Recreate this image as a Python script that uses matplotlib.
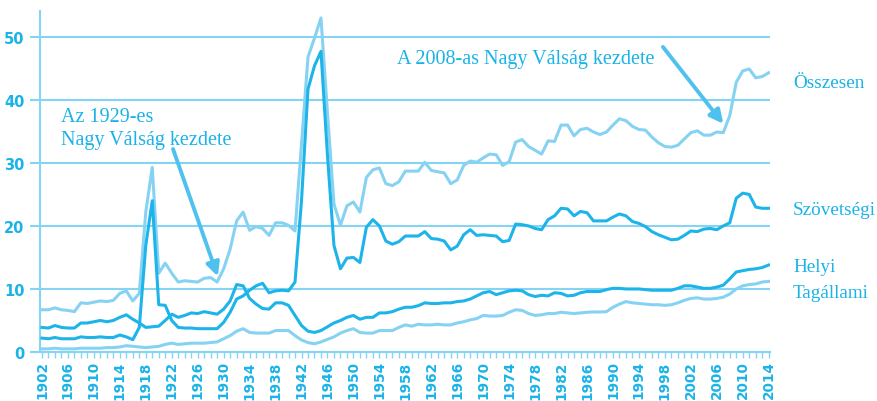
import numpy as np
import matplotlib.pyplot as plt

years = np.arange(1902, 2015)

osszesen = [
    6.7, 6.7, 7.0, 6.7, 6.6, 6.4, 7.8, 7.7, 7.9, 8.1,
    8.0, 8.2, 9.3, 9.7, 8.1, 9.3, 22.2, 29.3, 12.5, 14.1,
    12.5, 11.1, 11.3, 11.2, 11.1, 11.7, 11.8, 11.1, 13.2, 16.3,
    20.8, 22.2, 19.3, 19.9, 19.6, 18.5, 20.5, 20.5, 20.1, 19.2,
    33.0, 46.8, 49.8, 53.0, 38.0, 23.5, 20.1, 23.2, 23.8, 22.2,
    27.7, 28.9, 29.2, 26.7, 26.4, 27.0, 28.7, 28.7, 28.7, 30.1,
    28.8, 28.6, 28.4, 26.7, 27.3, 29.6, 30.3, 30.1, 30.8, 31.4,
    31.3, 29.6, 30.2, 33.3, 33.7, 32.6, 32.0, 31.4, 33.5, 33.4,
    36.0, 36.0, 34.3, 35.3, 35.5, 34.9, 34.5, 34.9, 36.0, 37.0,
    36.7, 35.8, 35.3, 35.2, 34.1, 33.2, 32.6, 32.5, 32.8, 33.8,
    34.8, 35.1, 34.4, 34.4, 34.9, 34.8, 37.5, 42.8, 44.6, 44.9,
    43.5, 43.7, 44.3,
]

szovetsegi = [
    2.2, 2.1, 2.3, 2.1, 2.1, 2.1, 2.4, 2.3, 2.3, 2.4,
    2.3, 2.3, 2.7, 2.4, 1.95, 3.9, 16.9, 24.0, 7.5, 7.4,
    5.0, 3.9, 3.8, 3.8, 3.7, 3.7, 3.7, 3.7, 4.7, 6.3,
    8.4, 8.9, 9.8, 10.5, 10.9, 9.4, 9.7, 9.8, 9.7, 11.1,
    24.0, 41.7, 45.4, 47.7, 31.2, 16.9, 13.2, 14.9, 15.0, 14.2,
    19.8, 21.0, 20.0, 17.6, 17.1, 17.5, 18.4, 18.4, 18.4, 19.1,
    18.0, 17.9, 17.6, 16.2, 16.8, 18.6, 19.4, 18.5, 18.6, 18.5,
    18.4, 17.5, 17.7, 20.3, 20.2, 20.0, 19.6, 19.4, 21.0, 21.6,
    22.8, 22.7, 21.6, 22.3, 22.1, 20.8, 20.8, 20.8, 21.4, 21.9,
    21.6, 20.7, 20.4, 19.9, 19.1, 18.6, 18.2, 17.8, 17.9, 18.5,
    19.2, 19.1, 19.5, 19.6, 19.4, 20.0, 20.5, 24.4, 25.2, 25.0,
    23.0, 22.8, 22.8,
]

helyi = [
    3.9, 3.8, 4.2, 3.9, 3.8, 3.8, 4.6, 4.6, 4.8, 5.0,
    4.8, 5.0, 5.5, 5.9, 5.2, 4.6, 3.9, 4.0, 4.1, 5.0,
    6.0, 5.5, 5.8, 6.2, 6.1, 6.4, 6.2, 6.0, 6.8, 8.1,
    10.7, 10.5, 8.5, 7.6, 6.9, 6.8, 7.8, 7.8, 7.4, 5.8,
    4.2, 3.3, 3.1, 3.4, 4.0, 4.6, 5.0, 5.5, 5.8, 5.2,
    5.5, 5.5, 6.2, 6.2, 6.4, 6.8, 7.1, 7.1, 7.35, 7.8,
    7.7, 7.7, 7.8, 7.8, 8.0, 8.1, 8.4, 8.9, 9.4, 9.6,
    9.1, 9.4, 9.7, 9.8, 9.7, 9.1, 8.8, 9.0, 8.9, 9.4,
    9.3, 8.9, 9.0, 9.4, 9.6, 9.6, 9.6, 9.9, 10.1, 10.1,
    10.0, 10.0, 10.0, 9.9, 9.8, 9.8, 9.8, 9.8, 10.1, 10.5,
    10.5, 10.3, 10.1, 10.1, 10.3, 10.6, 11.6, 12.7, 12.9, 13.1,
    13.2, 13.4, 13.8,
]

tagallami = [
    0.5, 0.5, 0.6, 0.5, 0.5, 0.5, 0.6, 0.6, 0.6, 0.6,
    0.7, 0.7, 0.8, 1.0, 0.9, 0.8, 0.7, 0.8, 0.9, 1.2,
    1.4, 1.2, 1.3, 1.4, 1.4, 1.4, 1.5, 1.6, 2.1, 2.6,
    3.3, 3.7, 3.1, 3.0, 3.0, 3.0, 3.4, 3.4, 3.4, 2.6,
    1.9, 1.5, 1.3, 1.6, 2.0, 2.4, 3.0, 3.4, 3.7, 3.1,
    3.0, 3.0, 3.4, 3.4, 3.4, 3.9, 4.3, 4.1, 4.4, 4.3,
    4.3, 4.4, 4.3, 4.3, 4.6, 4.8, 5.1, 5.3, 5.8, 5.7,
    5.7, 5.8, 6.3, 6.7, 6.6, 6.1, 5.8, 5.9, 6.1, 6.1,
    6.3, 6.2, 6.1, 6.2, 6.3, 6.35, 6.35, 6.4, 7.1, 7.6,
    8.0, 7.8, 7.7, 7.6, 7.5, 7.5, 7.4, 7.5, 7.8, 8.2,
    8.5, 8.6, 8.4, 8.4, 8.5, 8.7, 9.2, 10.0, 10.5, 10.7,
    10.8, 11.1, 11.2,
]

tick_years = list(range(1902, 2015, 4))
y_ticks = [0, 10, 20, 30, 40, 50]

DARK = '#1db4ea'
LIGHT = '#86d2f2'
GRID = '#86d4f3'
TEXT = '#1ab3e8'
ARROW = '#4fc1ee'

fig = plt.figure(figsize=(8.78, 4.02), dpi=100)
ax = fig.add_axes([40 / 878, 1 - 353 / 402, 730 / 878, 341 / 402])

for v in y_ticks[1:]:
    ax.axhline(v, color=GRID, lw=1.5, zorder=1)

ax.plot(years, tagallami, color=LIGHT, lw=2.2, zorder=3)
ax.plot(years, osszesen, color=LIGHT, lw=2.2, zorder=3)
ax.plot(years, helyi, color=DARK, lw=2.2, zorder=4)
ax.plot(years, szovetsegi, color=DARK, lw=2.2, zorder=4)

ax.set_xlim(1901.7, 2014.2)
ax.set_ylim(0, 54.1)

for s in ['top', 'right']:
    ax.spines[s].set_visible(False)
for s in ['left', 'bottom']:
    ax.spines[s].set_color(GRID)
    ax.spines[s].set_linewidth(1.5)

ax.set_yticks(y_ticks)
ax.set_yticklabels([str(v) for v in y_ticks])
ax.set_xticks(tick_years)
ax.set_xticklabels([str(y) for y in tick_years], rotation=90)
ax.set_xticks(years, minor=True)
ax.tick_params(axis='y', length=7, width=1.5, color=GRID, pad=4,
               labelcolor=TEXT, labelsize=10.5)
ax.tick_params(axis='x', which='both', length=4, width=1, color=GRID,
               direction='out', labelcolor=TEXT, labelsize=9.8, pad=2)
for lab in ax.get_xticklabels() + ax.get_yticklabels():
    lab.set_fontweight('bold')

serif = 'Liberation Serif'
ax.text(0.029, 0.657, 'Az 1929-es\nNagy Válság kezdete', transform=ax.transAxes,
        family=serif, fontsize=14.5, color=TEXT, va='center', ha='left',
        linespacing=1.25)
ax.text(0.489, 0.862, 'A 2008-as Nagy Válság kezdete', transform=ax.transAxes,
        family=serif, fontsize=14.5, color=TEXT, va='center', ha='left')

ax.annotate('', xy=(1929.1, 12.0), xytext=(1922.2, 32.2),
            arrowprops=dict(arrowstyle='-|>', color=ARROW, lw=2.8,
                            mutation_scale=20, shrinkA=0, shrinkB=0))
ax.annotate('', xy=(2007.0, 36.2), xytext=(1997.7, 48.4),
            arrowprops=dict(arrowstyle='-|>', color=ARROW, lw=2.8,
                            mutation_scale=20, shrinkA=0, shrinkB=0))

labels = [('Összesen', 84), ('Szövetségi', 211), ('Helyi', 268), ('Tagállami', 294)]
for name, py in labels:
    fig.text(793 / 878, 1 - py / 402, name, family=serif, fontsize=13.8,
             color=TEXT, va='center', ha='left')

fig.savefig('out.png', dpi=100)
